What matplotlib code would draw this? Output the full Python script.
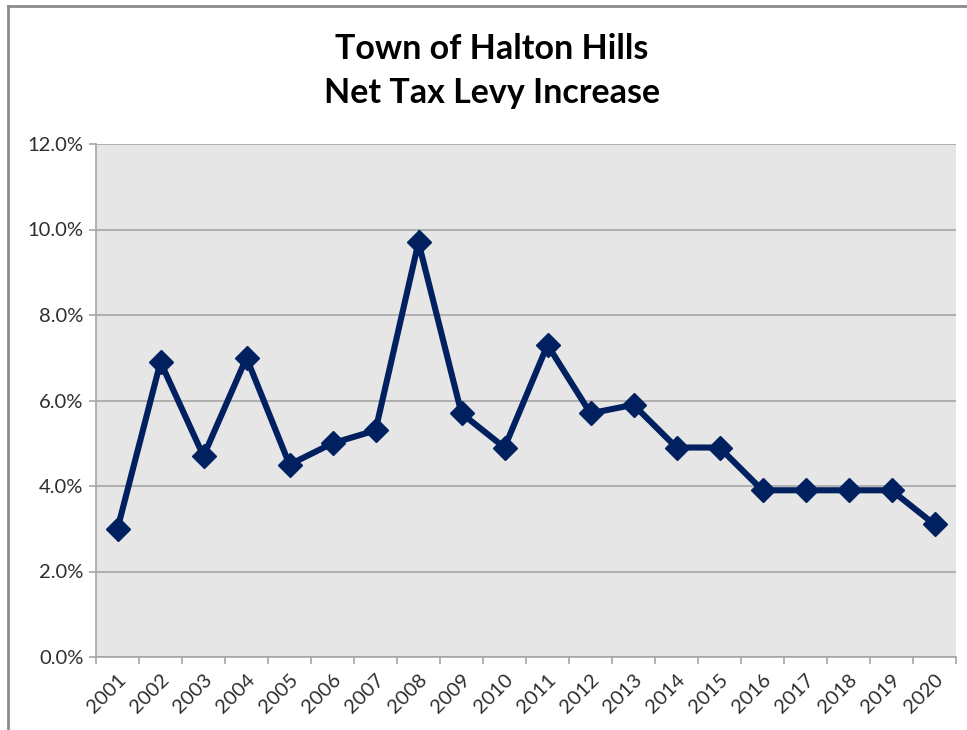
import matplotlib
matplotlib.use("Agg")
import matplotlib.pyplot as plt
from matplotlib.ticker import FuncFormatter, FixedLocator
from matplotlib.lines import Line2D
import numpy as np

years = ["2001", "2002", "2003", "2004", "2005", "2006", "2007", "2008", "2009", "2010",
         "2011", "2012", "2013", "2014", "2015", "2016", "2017", "2018", "2019", "2020"]
levy_increase = [3.0, 6.9, 4.7, 7.0, 4.5, 5.0, 5.3, 9.7, 5.7, 4.9,
                 7.3, 5.7, 5.9, 4.9, 4.9, 3.9, 3.9, 3.9, 3.9, 3.1]
y_ticks = [0, 2, 4, 6, 8, 10, 12]
title = "Town of Halton Hills\nNet Tax Levy Increase"

plt.rcParams['font.family'] = ['Lato', 'DejaVu Sans']

fig = plt.figure(figsize=(9.67, 7.3), dpi=100)
ax = fig.add_axes([96/967, 1-657/730, (956-96)/967, (657-144)/730])
ax.set_facecolor('#e6e6e6')

x = np.arange(len(years))
ax.plot(x, levy_increase, color='#002060', lw=4.4, marker='D', markersize=12,
        solid_joinstyle='miter', zorder=3)

ax.set_xlim(-0.5, len(years) - 0.5)
ax.set_ylim(0, 12)
ax.set_yticks(y_ticks)
ax.yaxis.set_major_formatter(FuncFormatter(lambda v, p: f"{v:.1f}%"))
ax.yaxis.grid(True, color='#a6a6a6', lw=1.2)
ax.set_axisbelow(True)

ax.set_xticks(x)
ax.set_xticklabels(years, rotation=45, ha='right', va='top', rotation_mode='anchor')
ax.xaxis.set_minor_locator(FixedLocator(np.arange(-0.5, len(years), 1)))
ax.tick_params(axis='x', which='major', length=0, pad=10, labelsize=14.5, labelcolor='#2e2e2e')
ax.tick_params(axis='x', which='minor', length=5, width=1.2, color='#a6a6a6', direction='out')
ax.tick_params(axis='y', length=5, width=1.2, color='#a6a6a6', labelsize=14.5,
               labelcolor='#2e2e2e', pad=4)

for s in ['top', 'right']:
    ax.spines[s].set_visible(False)
for s in ['left', 'bottom']:
    ax.spines[s].set_color('#a6a6a6')
    ax.spines[s].set_linewidth(1.2)

fig.text(492/967, 1-71/730, title, ha='center', va='center', fontsize=24.5,
         fontweight='bold', color='black', linespacing=1.45)

# outer frame (left and top edges)
fig.add_artist(Line2D([8/967, 8/967], [0, 1-6/730], transform=fig.transFigure,
                      color='#8c8c8c', lw=2))
fig.add_artist(Line2D([8/967, 1], [1-6/730, 1-6/730], transform=fig.transFigure,
                      color='#8c8c8c', lw=2))

fig.savefig("out.png", dpi=100)
